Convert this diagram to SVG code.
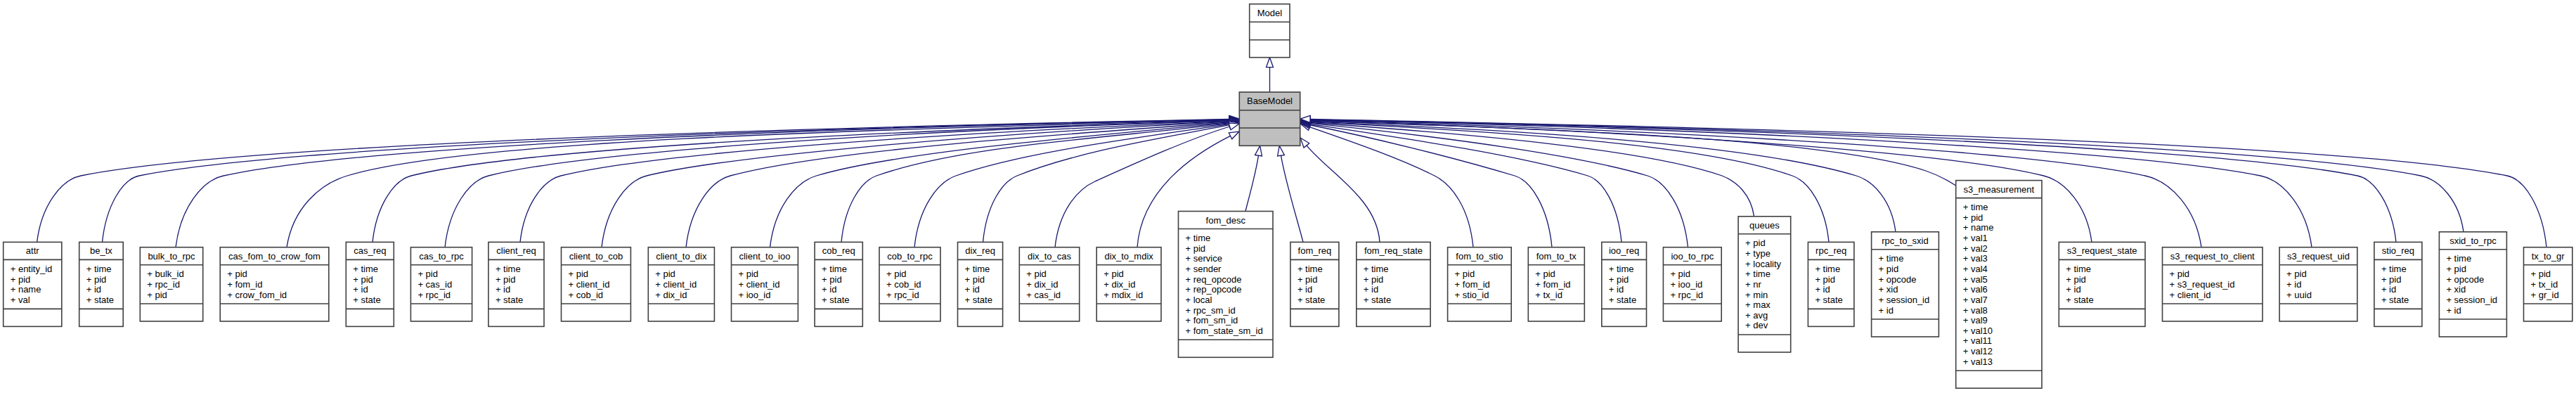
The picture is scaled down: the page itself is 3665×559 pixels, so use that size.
<svg xmlns="http://www.w3.org/2000/svg" width="3665" height="559" viewBox="0 0 3665 559">
<style>
.box{fill:#fff;stroke:#404040;stroke-width:1.6}
.base{fill:#bfbfbf}
.sep{fill:none;stroke:#404040;stroke-width:1.6}
text{font-family:"Liberation Sans",Arial,Helvetica,sans-serif;font-size:13px;fill:#000}
.h{text-anchor:middle}
.edge{fill:none;stroke:#191970;stroke-width:1.3;marker-end:url(#tri)}
</style>
<defs>
<marker id="tri" viewBox="0 0 14 10" refX="0" refY="5" markerWidth="14" markerHeight="10" markerUnits="userSpaceOnUse" orient="auto" overflow="visible">
<path d="M0,0 L14,5 L0,10 Z" fill="#fff" stroke="#191970" stroke-width="1.3"/>
</marker>
</defs>
<rect width="3665" height="559" fill="#fff"/>
<g id="edges">
<path class="edge" d="M1806.5,131 L1806.5,95.7"/>
<path class="edge" d="M52.6,344.4 C58.8,292.5 86.9,255.6 115,250 C327.4,207.5 1014,184 1749,169.3"/>
<path class="edge" d="M145.5,344.4 C150.8,292.5 174.4,254.7 198,250 C399.6,209.7 1051,183.8 1749,169.8"/>
<path class="edge" d="M250,351.7 C256.8,295.8 287.4,256.7 318,250 C504,209.1 1105,183.2 1749,170.3"/>
<path class="edge" d="M408,351.7 C416.6,295.8 455.3,261.6 494,250 C657,201.1 1184,185 1749,170.9"/>
<path class="edge" d="M530,344.4 C535.5,292.5 560.3,256.2 585,250 C736.3,212.2 1225.2,187.1 1749,171.4"/>
<path class="edge" d="M633,351.7 C639.2,295.8 667.1,257 695,250 C832,215.7 1274.7,186.1 1749,171.9"/>
<path class="edge" d="M740,344.4 C745.8,292.5 771.9,256.5 798,250 C921.6,219.1 1321,189.7 1749,172.6"/>
<path class="edge" d="M856,351.7 C862.4,295.8 891.2,257.2 920,250 C1027.8,223.1 1376,191.9 1749,173.2"/>
<path class="edge" d="M976,351.7 C982.3,295.8 1010.7,257.7 1039,250 C1166.8,215.5 1465,193.9 1749,174"/>
<path class="edge" d="M1095.5,351.7 C1102.1,295.8 1131.8,258.9 1161.5,250 C1267.3,218.3 1514,196 1749,174.8"/>
<path class="edge" d="M1197,344.4 C1202,292.5 1224.5,257.9 1247,250 C1372.5,206.1 1573.3,196.8 1749,175.7"/>
<path class="edge" d="M1301,351.7 C1306.9,295.8 1333.5,259.3 1360,250 C1457,216 1613,197 1749.2,176.6"/>
<path class="edge" d="M1398.5,344.4 C1403.4,292.5 1425.2,258.7 1447,250 C1537.6,213.8 1658.7,195.8 1749.3,177.7"/>
<path class="edge" d="M1501,351.7 C1506.7,300.2 1532.4,269.5 1558,258 C1615.5,232.1 1692.5,197.2 1749.6,180"/>
<path class="edge" d="M1618,351.7 C1624,270 1696.9,220.1 1750.5,193.3"/>
<path class="edge" d="M1772,300.5 C1777,280 1786,250 1790.5,221.2"/>
<path class="edge" d="M1854,344.4 C1845,310 1828,255 1822.5,221.2"/>
<path class="edge" d="M1963,344.4 C1959,282 1890.6,245.7 1858.9,206.9"/>
<path class="edge" d="M2096,351.7 C2090.5,295.8 2065.75,262.4 2041,250 C1987.7,223.3 1916.5,199.3 1863.2,180.6"/>
<path class="edge" d="M2208,351.7 C2202.7,295.8 2178.85,257.2 2155,250 C2067.6,223.8 1951.1,195.2 1863.7,177.75"/>
<path class="edge" d="M2307,344.4 C2302.2,292.5 2280.6,256.5 2259,250 C2160.2,220.4 2002.2,197.3 1863.85,176.6"/>
<path class="edge" d="M2401.5,351.7 C2395.75,295.8 2369.9,257.8 2344,250 C2248,221.2 2056,194.6 1864,175.4"/>
<path class="edge" d="M2495.6,307.8 C2491,276 2470.5,258 2450,250 C2344.5,213.1 2098.4,190.9 1864,174.5"/>
<path class="edge" d="M2602,344.4 C2596.8,292.5 2573.4,258.2 2550,250 C2426.5,206.8 2172.3,189.1 1864,173.7"/>
<path class="edge" d="M2697,329.8 C2691.4,285.9 2666.2,257.6 2641,250 C2501.1,208 2213.3,187.1 1864,173.1"/>
<path class="edge" d="M2782.7,264 C2772,257 2755,248 2740,243 C2609,199.8 2258,184.2 1864,172.4"/>
<path class="edge" d="M2976,344.4 C2969.2,292.5 2938.4,257.7 2907.6,250 C2771.9,216.1 2333.6,186 1864,171.9"/>
<path class="edge" d="M3132,351.7 C3124,295.8 3088,257.9 3052,250 C2897.6,216 2398.6,184.7 1864,171.35"/>
<path class="edge" d="M3289,351.7 C3281.7,295.8 3248.85,256.6 3216,250 C3040.2,214.8 2472.4,183 1864,170.8"/>
<path class="edge" d="M3409,344.4 C3403.5,292.5 3378.75,254.95 3354,250 C3160.3,211.3 2534.5,183.7 1864,170.3"/>
<path class="edge" d="M3505,329.8 C3498.9,285.9 3471.45,255.5 3444,250 C3238.6,208.9 2575,184 1864,169.8"/>
<path class="edge" d="M3623,351.7 C3617.4,295.8 3592.2,255 3567,250 C3345.6,205.7 2630.4,184.6 1864,169.3"/>
</g>
<g id="Model" transform="translate(1777.7,5.7)"><rect class="box" width="57.3" height="76"/><path class="sep" d="M0,25.6H57.3M0,51H57.3"/><text class="h" x="28.65" y="17.3">Model</text></g>
<g id="BaseModel" transform="translate(1763.3,131)"><rect class="box base" width="86.4" height="76.3"/><path class="sep" d="M0,25.7H86.4M0,51H86.4"/><text class="h" x="43.2" y="17.3">BaseModel</text></g>
<g id="attr" transform="translate(4.7,344.4)"><rect class="box" width="83.1" height="120"/><path class="sep" d="M0,25H83.1M0,95H83.1"/><text class="h" x="41.55" y="17">attr</text><text x="10" y="42.6">+ entity_id</text><text x="10" y="57.2">+ pid</text><text x="10" y="71.9">+ name</text><text x="10" y="86.5">+ val</text></g>
<g id="be_tx" transform="translate(112.7,344.4)"><rect class="box" width="62.5" height="120"/><path class="sep" d="M0,25H62.5M0,95H62.5"/><text class="h" x="31.25" y="17">be_tx</text><text x="10" y="42.6">+ time</text><text x="10" y="57.2">+ pid</text><text x="10" y="71.9">+ id</text><text x="10" y="86.5">+ state</text></g>
<g id="bulk_to_rpc" transform="translate(199.3,351.7)"><rect class="box" width="89.4" height="105.3"/><path class="sep" d="M0,25H89.4M0,80.3H89.4"/><text class="h" x="44.7" y="17">bulk_to_rpc</text><text x="10" y="42.6">+ bulk_id</text><text x="10" y="57.2">+ rpc_id</text><text x="10" y="71.9">+ pid</text></g>
<g id="cas_fom_to_crow_fom" transform="translate(313.2,351.7)"><rect class="box" width="154.6" height="105.3"/><path class="sep" d="M0,25H154.6M0,80.3H154.6"/><text class="h" x="77.3" y="17">cas_fom_to_crow_fom</text><text x="10" y="42.6">+ pid</text><text x="10" y="57.2">+ fom_id</text><text x="10" y="71.9">+ crow_fom_id</text></g>
<g id="cas_req" transform="translate(492.3,344.4)"><rect class="box" width="68" height="120"/><path class="sep" d="M0,25H68M0,95H68"/><text class="h" x="34" y="17">cas_req</text><text x="10" y="42.6">+ time</text><text x="10" y="57.2">+ pid</text><text x="10" y="71.9">+ id</text><text x="10" y="86.5">+ state</text></g>
<g id="cas_to_rpc" transform="translate(584.4,351.7)"><rect class="box" width="87.2" height="105.3"/><path class="sep" d="M0,25H87.2M0,80.3H87.2"/><text class="h" x="43.6" y="17">cas_to_rpc</text><text x="10" y="42.6">+ pid</text><text x="10" y="57.2">+ cas_id</text><text x="10" y="71.9">+ rpc_id</text></g>
<g id="client_req" transform="translate(694.9,344.4)"><rect class="box" width="79.1" height="120"/><path class="sep" d="M0,25H79.1M0,95H79.1"/><text class="h" x="39.55" y="17">client_req</text><text x="10" y="42.6">+ time</text><text x="10" y="57.2">+ pid</text><text x="10" y="71.9">+ id</text><text x="10" y="86.5">+ state</text></g>
<g id="client_to_cob" transform="translate(798.5,351.7)"><rect class="box" width="98.9" height="105.3"/><path class="sep" d="M0,25H98.9M0,80.3H98.9"/><text class="h" x="49.45" y="17">client_to_cob</text><text x="10" y="42.6">+ pid</text><text x="10" y="57.2">+ client_id</text><text x="10" y="71.9">+ cob_id</text></g>
<g id="client_to_dix" transform="translate(922.3,351.7)"><rect class="box" width="94.1" height="105.3"/><path class="sep" d="M0,25H94.1M0,80.3H94.1"/><text class="h" x="47.05" y="17">client_to_dix</text><text x="10" y="42.6">+ pid</text><text x="10" y="57.2">+ client_id</text><text x="10" y="71.9">+ dix_id</text></g>
<g id="client_to_ioo" transform="translate(1040.5,351.7)"><rect class="box" width="94.9" height="105.3"/><path class="sep" d="M0,25H94.9M0,80.3H94.9"/><text class="h" x="47.45" y="17">client_to_ioo</text><text x="10" y="42.6">+ pid</text><text x="10" y="57.2">+ client_id</text><text x="10" y="71.9">+ ioo_id</text></g>
<g id="cob_req" transform="translate(1159.1,344.4)"><rect class="box" width="68.2" height="120"/><path class="sep" d="M0,25H68.2M0,95H68.2"/><text class="h" x="34.1" y="17">cob_req</text><text x="10" y="42.6">+ time</text><text x="10" y="57.2">+ pid</text><text x="10" y="71.9">+ id</text><text x="10" y="86.5">+ state</text></g>
<g id="cob_to_rpc" transform="translate(1251,351.7)"><rect class="box" width="87" height="105.3"/><path class="sep" d="M0,25H87M0,80.3H87"/><text class="h" x="43.5" y="17">cob_to_rpc</text><text x="10" y="42.6">+ pid</text><text x="10" y="57.2">+ cob_id</text><text x="10" y="71.9">+ rpc_id</text></g>
<g id="dix_req" transform="translate(1362.5,344.4)"><rect class="box" width="64.1" height="120"/><path class="sep" d="M0,25H64.1M0,95H64.1"/><text class="h" x="32.05" y="17">dix_req</text><text x="10" y="42.6">+ time</text><text x="10" y="57.2">+ pid</text><text x="10" y="71.9">+ id</text><text x="10" y="86.5">+ state</text></g>
<g id="dix_to_cas" transform="translate(1450.3,351.7)"><rect class="box" width="85.4" height="105.3"/><path class="sep" d="M0,25H85.4M0,80.3H85.4"/><text class="h" x="42.7" y="17">dix_to_cas</text><text x="10" y="42.6">+ pid</text><text x="10" y="57.2">+ dix_id</text><text x="10" y="71.9">+ cas_id</text></g>
<g id="dix_to_mdix" transform="translate(1560.2,351.7)"><rect class="box" width="91.8" height="105.3"/><path class="sep" d="M0,25H91.8M0,80.3H91.8"/><text class="h" x="45.9" y="17">dix_to_mdix</text><text x="10" y="42.6">+ pid</text><text x="10" y="57.2">+ dix_id</text><text x="10" y="71.9">+ mdix_id</text></g>
<g id="fom_desc" transform="translate(1676.5,300.5)"><rect class="box" width="134.5" height="207.8"/><path class="sep" d="M0,25H134.5M0,182.8H134.5"/><text class="h" x="67.25" y="17">fom_desc</text><text x="10" y="42.6">+ time</text><text x="10" y="57.2">+ pid</text><text x="10" y="71.9">+ service</text><text x="10" y="86.5">+ sender</text><text x="10" y="101.2">+ req_opcode</text><text x="10" y="115.8">+ rep_opcode</text><text x="10" y="130.4">+ local</text><text x="10" y="145.1">+ rpc_sm_id</text><text x="10" y="159.7">+ fom_sm_id</text><text x="10" y="174.4">+ fom_state_sm_id</text></g>
<g id="fom_req" transform="translate(1835.9,344.4)"><rect class="box" width="69" height="120"/><path class="sep" d="M0,25H69M0,95H69"/><text class="h" x="34.5" y="17">fom_req</text><text x="10" y="42.6">+ time</text><text x="10" y="57.2">+ pid</text><text x="10" y="71.9">+ id</text><text x="10" y="86.5">+ state</text></g>
<g id="fom_req_state" transform="translate(1929.8,344.4)"><rect class="box" width="105.3" height="120"/><path class="sep" d="M0,25H105.3M0,95H105.3"/><text class="h" x="52.65" y="17">fom_req_state</text><text x="10" y="42.6">+ time</text><text x="10" y="57.2">+ pid</text><text x="10" y="71.9">+ id</text><text x="10" y="86.5">+ state</text></g>
<g id="fom_to_stio" transform="translate(2059.6,351.7)"><rect class="box" width="90.6" height="105.3"/><path class="sep" d="M0,25H90.6M0,80.3H90.6"/><text class="h" x="45.3" y="17">fom_to_stio</text><text x="10" y="42.6">+ pid</text><text x="10" y="57.2">+ fom_id</text><text x="10" y="71.9">+ stio_id</text></g>
<g id="fom_to_tx" transform="translate(2174.3,351.7)"><rect class="box" width="80" height="105.3"/><path class="sep" d="M0,25H80M0,80.3H80"/><text class="h" x="40" y="17">fom_to_tx</text><text x="10" y="42.6">+ pid</text><text x="10" y="57.2">+ fom_id</text><text x="10" y="71.9">+ tx_id</text></g>
<g id="ioo_req" transform="translate(2278.8,344.4)"><rect class="box" width="63.7" height="120"/><path class="sep" d="M0,25H63.7M0,95H63.7"/><text class="h" x="31.85" y="17">ioo_req</text><text x="10" y="42.6">+ time</text><text x="10" y="57.2">+ pid</text><text x="10" y="71.9">+ id</text><text x="10" y="86.5">+ state</text></g>
<g id="ioo_to_rpc" transform="translate(2366.4,351.7)"><rect class="box" width="82.8" height="105.3"/><path class="sep" d="M0,25H82.8M0,80.3H82.8"/><text class="h" x="41.4" y="17">ioo_to_rpc</text><text x="10" y="42.6">+ pid</text><text x="10" y="57.2">+ ioo_id</text><text x="10" y="71.9">+ rpc_id</text></g>
<g id="queues" transform="translate(2473.1,307.8)"><rect class="box" width="74.6" height="193.2"/><path class="sep" d="M0,25H74.6M0,168.2H74.6"/><text class="h" x="37.3" y="17">queues</text><text x="10" y="42.6">+ pid</text><text x="10" y="57.2">+ type</text><text x="10" y="71.9">+ locality</text><text x="10" y="86.5">+ time</text><text x="10" y="101.2">+ nr</text><text x="10" y="115.8">+ min</text><text x="10" y="130.4">+ max</text><text x="10" y="145.1">+ avg</text><text x="10" y="159.7">+ dev</text></g>
<g id="rpc_req" transform="translate(2572.4,344.4)"><rect class="box" width="65.5" height="120"/><path class="sep" d="M0,25H65.5M0,95H65.5"/><text class="h" x="32.75" y="17">rpc_req</text><text x="10" y="42.6">+ time</text><text x="10" y="57.2">+ pid</text><text x="10" y="71.9">+ id</text><text x="10" y="86.5">+ state</text></g>
<g id="rpc_to_sxid" transform="translate(2662.6,329.8)"><rect class="box" width="95.8" height="149.2"/><path class="sep" d="M0,25H95.8M0,124.2H95.8"/><text class="h" x="47.9" y="17">rpc_to_sxid</text><text x="10" y="42.6">+ time</text><text x="10" y="57.2">+ pid</text><text x="10" y="71.9">+ opcode</text><text x="10" y="86.5">+ xid</text><text x="10" y="101.2">+ session_id</text><text x="10" y="115.8">+ id</text></g>
<g id="s3_measurement" transform="translate(2782.7,256.6)"><rect class="box" width="122.3" height="295.6"/><path class="sep" d="M0,25H122.3M0,270.6H122.3"/><text class="h" x="61.15" y="17">s3_measurement</text><text x="10" y="42.6">+ time</text><text x="10" y="57.2">+ pid</text><text x="10" y="71.9">+ name</text><text x="10" y="86.5">+ val1</text><text x="10" y="101.2">+ val2</text><text x="10" y="115.8">+ val3</text><text x="10" y="130.4">+ val4</text><text x="10" y="145.1">+ val5</text><text x="10" y="159.7">+ val6</text><text x="10" y="174.4">+ val7</text><text x="10" y="189">+ val8</text><text x="10" y="203.6">+ val9</text><text x="10" y="218.3">+ val10</text><text x="10" y="232.9">+ val11</text><text x="10" y="247.6">+ val12</text><text x="10" y="262.2">+ val13</text></g>
<g id="s3_request_state" transform="translate(2929.3,344.4)"><rect class="box" width="122.7" height="120"/><path class="sep" d="M0,25H122.7M0,95H122.7"/><text class="h" x="61.35" y="17">s3_request_state</text><text x="10" y="42.6">+ time</text><text x="10" y="57.2">+ pid</text><text x="10" y="71.9">+ id</text><text x="10" y="86.5">+ state</text></g>
<g id="s3_request_to_client" transform="translate(3076.5,351.7)"><rect class="box" width="142.5" height="105.3"/><path class="sep" d="M0,25H142.5M0,80.3H142.5"/><text class="h" x="71.25" y="17">s3_request_to_client</text><text x="10" y="42.6">+ pid</text><text x="10" y="57.2">+ s3_request_id</text><text x="10" y="71.9">+ client_id</text></g>
<g id="s3_request_uid" transform="translate(3243.1,351.7)"><rect class="box" width="110.7" height="105.3"/><path class="sep" d="M0,25H110.7M0,80.3H110.7"/><text class="h" x="55.35" y="17">s3_request_uid</text><text x="10" y="42.6">+ pid</text><text x="10" y="57.2">+ id</text><text x="10" y="71.9">+ uuid</text></g>
<g id="stio_req" transform="translate(3377.9,344.4)"><rect class="box" width="68" height="120"/><path class="sep" d="M0,25H68M0,95H68"/><text class="h" x="34" y="17">stio_req</text><text x="10" y="42.6">+ time</text><text x="10" y="57.2">+ pid</text><text x="10" y="71.9">+ id</text><text x="10" y="86.5">+ state</text></g>
<g id="sxid_to_rpc" transform="translate(3470.4,329.8)"><rect class="box" width="96" height="149.2"/><path class="sep" d="M0,25H96M0,124.2H96"/><text class="h" x="48" y="17">sxid_to_rpc</text><text x="10" y="42.6">+ time</text><text x="10" y="57.2">+ pid</text><text x="10" y="71.9">+ opcode</text><text x="10" y="86.5">+ xid</text><text x="10" y="101.2">+ session_id</text><text x="10" y="115.8">+ id</text></g>
<g id="tx_to_gr" transform="translate(3590.5,351.7)"><rect class="box" width="69.3" height="105.3"/><path class="sep" d="M0,25H69.3M0,80.3H69.3"/><text class="h" x="34.65" y="17">tx_to_gr</text><text x="10" y="42.6">+ pid</text><text x="10" y="57.2">+ tx_id</text><text x="10" y="71.9">+ gr_id</text></g>
</svg>
